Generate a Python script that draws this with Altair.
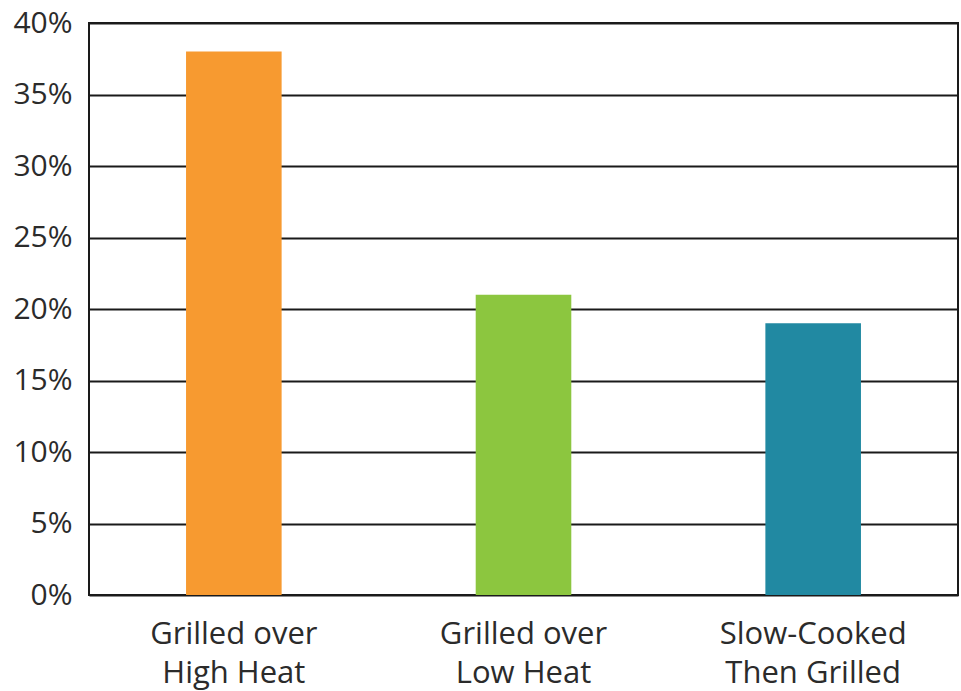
import altair as alt
import pandas as pd

# Share of samples by cooking method
methods = ["Grilled over|High Heat", "Grilled over|Low Heat", "Slow-Cooked|Then Grilled"]
shares = [38, 21, 19]
colors = ["#F79A30", "#8CC63F", "#2189A2"]

df = pd.DataFrame({"method": methods, "share": shares, "color": colors})

bars = alt.Chart(df).mark_bar().encode(
    x=alt.X(
        "method:N",
        sort=methods,
        scale=alt.Scale(paddingInner=0.67, paddingOuter=0.335),
        axis=alt.Axis(
            title=None,
            labelExpr="split(datum.label, '|')",
            labelAngle=0,
            labelFont="Open Sans",
            labelFontSize=31,
            labelColor="#2b2b2b",
            labelLineHeight=39,
            labelPadding=24,
            labelBaseline="top",
            labelLimit=0,
            ticks=False,
            domain=False,
        ),
    ),
    y=alt.Y(
        "share:Q",
        scale=alt.Scale(domain=[0, 40]),
        axis=alt.Axis(
            title=None,
            values=[0, 5, 10, 15, 20, 25, 30, 35, 40],
            labelExpr="datum.value + '%'",
            labelFont="Open Sans",
            labelFontSize=30,
            labelColor="#2b2b2b",
            labelPadding=17,
            labelLimit=0,
            ticks=False,
            domain=False,
            grid=True,
            gridColor="#1a1a1a",
            gridWidth=2,
            gridOpacity=1,
        ),
    ),
    color=alt.Color("color:N", scale=None, legend=None),
)

chart = bars.properties(
    width=869,
    height=572,
    autosize=alt.AutoSizeParams(type="none"),
    padding={"left": 89, "top": 23, "right": 3, "bottom": 96},
    background="white",
).configure_view(
    stroke="#1a1a1a",
    strokeWidth=2,
)

chart.save("out.html", embed_options={"renderer": "svg", "actions": False})
